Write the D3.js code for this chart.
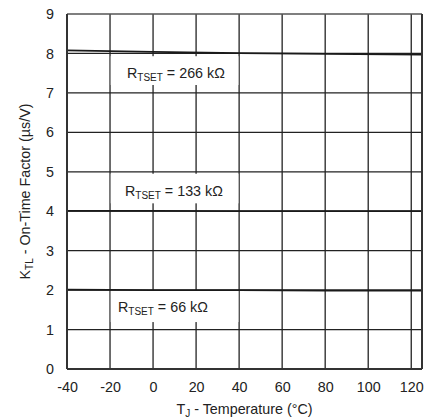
<!DOCTYPE html>
<html>
<head>
<meta charset="utf-8">
<script src="https://cdn.jsdelivr.net/npm/d3@7"></script>
<style>
  html, body { margin: 0; padding: 0; background: #fff; }
  svg text { font-family: "Liberation Sans", Arial, sans-serif; fill: #222; }
</style>
</head>
<body>
<svg id="chart" width="425" height="419"></svg>
<script>
// ---- data ----
const temps = [-40, 0, 40, 80, 125];
const k266 = [8.08, 8.04, 8.01, 7.99, 7.97];
const k133 = [4.01, 4.01, 4.0, 4.0, 4.0];
const k66 = [2.01, 2.0, 2.0, 1.99, 1.99];
const seriesNames = ["266 kΩ", "133 kΩ", "66 kΩ"];
const xTicks = [-40, -20, 0, 20, 40, 60, 80, 100, 120];
const yTicks = [0, 1, 2, 3, 4, 5, 6, 7, 8, 9];
const xTitle = "T";
const xTitleSub = "J";
const xTitleRest = " - Temperature (°C)";
const yTitle = "K";
const yTitleSub = "TL";
const yTitleRest = " - On-Time Factor (µs/V)";

// ---- layout ----
const L = 67, R = 422, T = 14, B = 369;
const FS = 14.3, SUB = 10;
const svg = d3.select("#chart");
const x = d3.scaleLinear().domain([-40, 125]).range([L, R]);
const y = d3.scaleLinear().domain([0, 9]).range([B, T]);

// grid
const g = svg.append("g");
g.selectAll("line.vx").data(xTicks.filter(d => d > -40)).enter().append("line")
  .attr("x1", d => x(d)).attr("x2", d => x(d)).attr("y1", T).attr("y2", B)
  .attr("stroke", "#222").attr("stroke-width", 1.3);
g.selectAll("line.hy").data(yTicks.filter(d => d > 0 && d < 9)).enter().append("line")
  .attr("x1", L).attr("x2", R).attr("y1", d => y(d)).attr("y2", d => y(d))
  .attr("stroke", "#222").attr("stroke-width", 1.3);

// label boxes (white, covering grid)
const labelDefs = [
  { name: seriesNames[0], top: 7.93, bot: 7.2, tx: 127, base: 7.39 },
  { name: seriesNames[1], top: 4.95, bot: 4.2, tx: 125, base: 4.38 },
  { name: seriesNames[2], top: 1.98, bot: 1.19, tx: 118, base: 1.45 }
];
labelDefs.forEach(l => {
  svg.append("rect")
    .attr("x", x(-20) + 0.7).attr("width", x(40) - x(-20) - 1.4)
    .attr("y", y(l.top)).attr("height", y(l.bot) - y(l.top))
    .attr("fill", "#fff");
  const t = svg.append("text").attr("x", l.tx).attr("y", y(l.base))
    .attr("font-size", FS);
  t.append("tspan").text("R");
  t.append("tspan").attr("font-size", SUB).attr("dy", 3).text("TSET");
  t.append("tspan").attr("dy", -3).text(" = " + l.name);
});

// data lines
const line = d3.line().x((d, i) => x(temps[i])).y(d => y(d));
[k266, k133, k66].forEach(s => {
  svg.append("path").datum(s).attr("d", line)
    .attr("fill", "none").attr("stroke", "#1a1a1a").attr("stroke-width", 1.8);
});

// frame
svg.append("line").attr("x1", L).attr("x2", R).attr("y1", T).attr("y2", T)
  .attr("stroke", "#555").attr("stroke-width", 1.5);
svg.append("line").attr("x1", L).attr("x2", L).attr("y1", T).attr("y2", B)
  .attr("stroke", "#333").attr("stroke-width", 2);
svg.append("line").attr("x1", R).attr("x2", R).attr("y1", T).attr("y2", B)
  .attr("stroke", "#333").attr("stroke-width", 2);
svg.append("line").attr("x1", L).attr("x2", R).attr("y1", B).attr("y2", B)
  .attr("stroke", "#333").attr("stroke-width", 2);

// axes tick labels
const xAxis = d3.axisBottom(x).tickValues(xTicks).tickFormat(d => String(d)).tickSize(0).tickPadding(13);
const xa = svg.append("g").attr("transform", `translate(0,${B})`).call(xAxis);
xa.select(".domain").remove();
xa.selectAll("text").attr("font-size", FS).attr("fill", "#222").attr("font-family", null);

const yAxis = d3.axisLeft(y).tickValues(yTicks).tickFormat(d => String(d)).tickSize(0).tickPadding(13);
const ya = svg.append("g").attr("transform", `translate(${L},0)`).call(yAxis);
ya.select(".domain").remove();
ya.selectAll("text").attr("font-size", FS).attr("fill", "#222").attr("font-family", null);

// axis titles
const xt = svg.append("text").attr("x", (L + R) / 2).attr("y", 414)
  .attr("text-anchor", "middle").attr("font-size", FS);
xt.append("tspan").text(xTitle);
xt.append("tspan").attr("font-size", SUB).attr("dy", 2.5).text(xTitleSub);
xt.append("tspan").attr("dy", -2.5).text(xTitleRest);

const yt = svg.append("text").attr("transform", `translate(30,${(T + B) / 2}) rotate(-90)`)
  .attr("text-anchor", "middle").attr("font-size", FS);
yt.append("tspan").text(yTitle);
yt.append("tspan").attr("font-size", SUB).attr("dy", 3).text(yTitleSub);
yt.append("tspan").attr("dy", -3).text(yTitleRest);
</script>
</body>
</html>
